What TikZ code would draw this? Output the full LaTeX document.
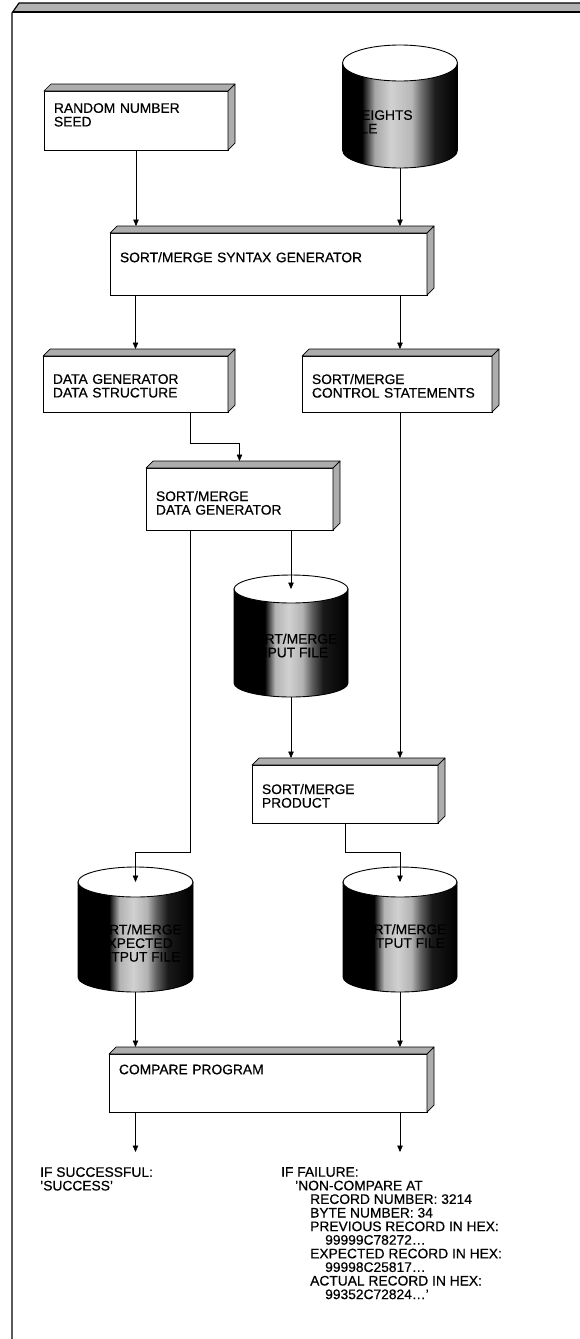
\documentclass[tikz,border=0pt]{standalone}
\usepackage{fontspec}
\setmainfont{Liberation Sans}[FakeBold=0.5]
\usetikzlibrary{arrows.meta,calc}
\pgfdeclarehorizontalshading{cylshade}{100bp}{color(0bp)=(black); color(25bp)=(black); color(38.5bp)=(black); color(43bp)=(black!30); color(49bp)=(black!18); color(55bp)=(black!30); color(59bp)=(black!62); color(64bp)=(black!90); color(75bp)=(black); color(100bp)=(black)}
\pgfdeclarehorizontalshading{cylshadeB}{100bp}{color(0bp)=(black); color(25bp)=(black); color(33.5bp)=(black); color(39bp)=(black!35); color(46bp)=(black!18); color(55bp)=(black!28); color(59bp)=(black!55); color(65bp)=(black!88); color(75bp)=(black); color(100bp)=(black)}
\newcommand{\boxfaces}[1]{%
  \filldraw[face] (#1.north west) -- ($(#1.north west)+(7,-7)$) -- ($(#1.north east)+(7,-7)$) -- (#1.north east) -- cycle;
  \filldraw[face] (#1.north east) -- ($(#1.north east)+(7,-7)$) -- ($(#1.south east)+(7,-7)$) -- (#1.south east) -- cycle;
}
\newcommand{\dbcyl}[7]{%
  \node[cylspace, minimum width={2*#5pt}, minimum height={(#4-#3)*1pt}] (#1) at (#2,{(#3+#4)/2}) {};
  \path[shading=#7, draw=black, line width=0.9pt] ({#2-#5},{#3+#6}) -- ({#2-#5},{#4-#6}) arc[start angle=180, end angle=0, x radius=#5, y radius=#6] -- ({#2+#5},{#3+#6}) -- cycle;
  \draw[fill=white, line width=0.9pt] (#2,{#3+#6}) ellipse [x radius=#5, y radius=#6];
}
\begin{document}
\begin{tikzpicture}[x=1pt,y=-1pt,
  font=\fontsize{13.8}{13.6}\selectfont,
  blk/.style={draw, fill=white, line width=0.9pt, inner xsep=10pt, inner ysep=0pt, outer sep=0pt, align=left},
  face/.style={fill=black!32, draw=black, line width=0.7pt, line join=round},
  arr/.style={-{Triangle[length=6.5pt,width=5.5pt]}, line width=0.6pt},
  cylspace/.style={inner sep=0pt, outer sep=0pt},
  lbl/.style={inner sep=0pt, align=left, anchor=north west},
  ctext/.style={inner sep=0pt, align=center}
]
\fill[white] (0,0) rectangle (580,1339);
\path[use as bounding box] (0,0) rectangle (580,1339);
% outer frame
\fill[black!30] (12,13) -- (19,3) -- (580,3) -- (580,12) -- (12,12) -- cycle;
\draw[line width=1.2pt] (12,1339) -- (12,13) -- (19,3) -- (581,3);
\draw[line width=1.4pt] (13,12) -- (581,12);

% boxes
\node[blk, text width=164pt, minimum height=59pt, text depth=25pt] (seed) at (136,120.5) {RANDOM NUMBER\\SEED};
\boxfaces{seed}
\node[blk, text width=297pt, minimum height=62pt] (syn) at (268.5,264) {SORT/MERGE SYNTAX GENERATOR\\\mbox{}};
\boxfaces{syn}
\node[blk, text width=165pt, minimum height=56pt, text depth=10pt] (dgs) at (135.5,384) {DATA GENERATOR\\DATA STRUCTURE};
\boxfaces{dgs}
\node[blk, text width=170pt, minimum height=56pt, text depth=10pt] (ctl) at (397,384) {SORT/MERGE\\CONTROL STATEMENTS};
\boxfaces{ctl}
\node[blk, text width=167pt, minimum height=62pt, text depth=6pt] (dg) at (239.5,499) {SORT/MERGE\\DATA GENERATOR};
\boxfaces{dg}
\node[blk, text width=166pt, minimum height=58pt, text depth=10pt] (prod) at (345,794) {SORT/MERGE\\PRODUCT};
\boxfaces{prod}
\node[blk, text width=298pt, minimum height=58pt] (cmp) at (268,1083) {COMPARE PROGRAM\\\mbox{}\\\mbox{}};
\boxfaces{cmp}

% cylinders
\dbcyl{wf}{400}{45}{168}{57.5}{18}{cylshadeB}
\node[inner sep=0pt, align=left, anchor=north west] (wf-t) at (348,110) {WEIGHTS\\FILE};
\dbcyl{inp}{291}{575}{697}{57}{14}{cylshade}
\node[ctext] (inp-t) at (291,645.5) {SORT/MERGE\\INPUT FILE};
\dbcyl{exp}{135.5}{867}{992}{57.5}{15}{cylshade}
\node[ctext] (exp-t) at (135.5,943) {SORT/MERGE\\EXPECTED\\OUTPUT FILE};
\dbcyl{out}{400}{867}{992}{57}{15}{cylshade}
\node[ctext] (out-t) at (400,936) {SORT/MERGE\\OUTPUT FILE};

% connectors
\coordinate (j1) at (190,443);
\coordinate (j2) at (190,852);
\draw[arr] (seed.south) -- ($(syn.north -| seed.south)+(0,-7)$);
\draw[arr] (wf.south) -- ($(syn.north -| wf.south)+(0,-7)$);
\draw[arr] (syn.south -| dgs.north) -- ($(dgs.north)+(0,-7)$);
\draw[arr] (syn.south -| wf.south) -- ($(ctl.north -| wf.south)+(0,-7)$);
\draw[arr] (dgs.south -| j1) -- (j1) -| ($(dg.north)+(0,-7)$);
\draw[arr] (dg.south -| j2) -- (j2) -| ($(exp.north)+(0,15)$);
\draw[arr] (dg.south -| inp.north) -- ($(inp.north)+(0,14)$);
\draw[arr] (inp.south) -- ($(prod.north -| inp.south)+(0,-7)$);
\draw[arr] (ctl.south -| wf.south) -- ($(prod.north -| wf.south)+(0,-7)$);
\draw[arr] (prod.south) -- (prod.south |- j2) -| ($(out.north)+(0,15)$);
\draw[arr] (exp.south) -- ($(cmp.north -| exp.south)+(0,-7)$);
\draw[arr] (out.south) -- ($(cmp.north -| out.south)+(0,-7)$);
\coordinate (e1) at ($(cmp.south -| exp.south)+(0,40)$);
\coordinate (e2) at ($(cmp.south -| out.south)+(0,40)$);
\draw[arr] (cmp.south -| exp.south) -- (e1);
\draw[arr] (cmp.south -| out.south) -- (e2);

% result texts
\node[lbl] (succ) at (40,1167) {IF SUCCESSFUL:\\'SUCCESS'};
\node[lbl] (fail) at (281,1167) {IF FAILURE:\\
\hspace*{14pt}'NON-COMPARE AT\\
\hspace*{29pt}RECORD NUMBER: 3214\\
\hspace*{29pt}BYTE NUMBER: 34\\
\hspace*{29pt}PREVIOUS RECORD IN HEX:\\
\hspace*{44pt}99999C78272\ldots\\
\hspace*{29pt}EXPECTED RECORD IN HEX:\\
\hspace*{44pt}99998C25817\ldots\\
\hspace*{29pt}ACTUAL RECORD IN HEX:\\
\hspace*{44pt}99352C72824\ldots'};
\end{tikzpicture}
\end{document}
